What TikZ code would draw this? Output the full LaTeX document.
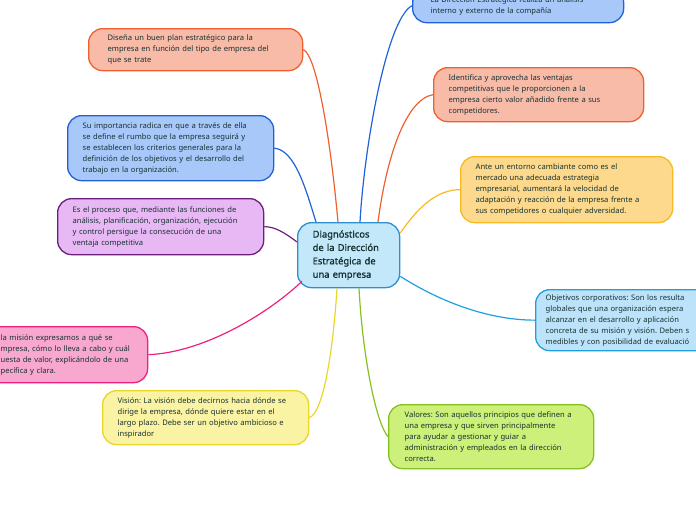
\documentclass[tikz,border=0pt]{standalone}
\usepackage{fontspec}
\setmainfont{Noto Sans}
\newfontfamily\hubfont[FakeBold=1.2]{Noto Sans}
\usetikzlibrary{calc}
\frenchspacing

\definecolor{txt}{HTML}{163030}
\definecolor{salmonF}{HTML}{F8BBA8}
\definecolor{salmonD}{HTML}{F0602E}
\definecolor{blueF}{HTML}{A8C8FA}
\definecolor{blueD}{HTML}{1F62D8}
\definecolor{purpF}{HTML}{E8B8F5}
\definecolor{purpD}{HTML}{6B1E7A}
\definecolor{amberF}{HTML}{FCD98C}
\definecolor{amberD}{HTML}{F8B922}
\definecolor{hubF}{HTML}{C2E8FA}
\definecolor{hubD}{HTML}{2E8FD0}
\definecolor{pinkF}{HTML}{F8A8CF}
\definecolor{pinkD}{HTML}{EE1F7D}
\definecolor{skyF}{HTML}{BDE3FA}
\definecolor{skyD}{HTML}{1E9FE0}
\definecolor{lemonF}{HTML}{FAF3A3}
\definecolor{lemonD}{HTML}{E8D62A}
\definecolor{limeF}{HTML}{CCF07A}
\definecolor{limeD}{HTML}{85C21F}

\begin{document}
\begin{tikzpicture}[x=1pt,y=-1pt,
  card/.style={draw, line width=1.3pt, rounded corners=14pt, anchor=north west,
    align=left, inner xsep=15pt, inner ysep=0pt, text=txt,
    font=\fontsize{7.6}{11}\selectfont},
  hub/.style={card, font=\hubfont\fontsize{9.4}{13.4}\selectfont},
  link/.style={line width=1.2pt}]
  \useasboundingbox (0,0) rectangle (696,520);
  \clip (0,0) rectangle (696,520);

  % central topic
  \node[hub, fill=hubF, draw=hubD, text width=72pt, minimum height=65pt] (hub) at (297,222)
    {Diagnósticos\\de la Dirección\\Estratégica de\\una empresa};

  % left column
  \node[card, fill=salmonF, draw=salmonD, inner xsep=19pt, text width=176pt, minimum height=42pt] (plan) at (88,28)
    {Diseña un buen plan estratégico para la\\empresa en función del tipo de empresa del\\que se trate};
  \node[card, fill=blueF, draw=blueD, text width=176pt, minimum height=65pt] (rumbo) at (67,115)
    {Su importancia radica en que a través de ella\\se define el rumbo que la empresa seguirá y\\se establecen los criterios generales para la\\definición de los objetivos y el desarrollo del\\trabajo en la organización.};
  \node[card, fill=purpF, draw=purpD, text width=176pt, minimum height=56pt] (proceso) at (57,198)
    {Es el proceso que, mediante las funciones de\\análisis, planificación, organización, ejecución\\y control persigue la consecución de una\\ventaja competitiva};
  \node[card, fill=pinkF, draw=pinkD, text width=132pt, minimum height=56pt] (mision) at (-15,326)
    {la misión expresamos a qué se\\mpresa, cómo lo lleva a cabo y cuál\\uesta de valor, explicándolo de una\\pecífica y clara.};
  \node[card, fill=lemonF, draw=lemonD, text width=176pt, minimum height=54pt] (vision) at (102,390)
    {Visión: La visión debe decirnos hacia dónde se\\dirige la empresa, dónde quiere estar en el\\largo plazo. Debe ser un objetivo ambicioso e\\inspirador};

  % right column
  \node[card, fill=blueF, draw=blueD, inner xsep=18pt, text width=175pt, minimum height=34pt] (analisis) at (412,-12)
    {La Dirección Estratégica realiza un análisis\\interno y externo de la compañía};
  \node[card, fill=salmonF, draw=salmonD, text width=180pt, minimum height=54pt] (ventajas) at (433,67)
    {Identifica y aprovecha las ventajas\\competitivas que le proporcionen a la\\empresa cierto valor añadido frente a sus\\competidores.};
  \node[card, fill=amberF, draw=amberD, text width=182pt, minimum height=66pt] (entorno) at (460,156)
    {Ante un entorno cambiante como es el\\mercado una adecuada estrategia\\empresarial, aumentará la velocidad de\\adaptación y reacción de la empresa frente a\\sus competidores o cualquier adversidad.};
  \node[card, fill=skyF, draw=skyD, inner xsep=10pt, text width=170pt, minimum height=61pt] (objetivos) at (535,289)
    {Objetivos corporativos: Son los resulta\\globales que una organización espera\\alcanzar en el desarrollo y aplicación\\concreta de su misión y visión. Deben s\\medibles y con posibilidad de evaluació};
  \node[card, fill=limeF, draw=limeD, inner xsep=16pt, text width=173pt, minimum height=64pt] (valores) at (388,404)
    {Valores: Son aquellos principios que definen a\\una empresa y que sirven principalmente\\para ayudar a gestionar y guiar a\\administración y empleados en la dirección\\correcta.};

  % branches
  \draw[link, salmonD] ($(hub.north west)+(41,0)$) .. controls +(-8,-87) and +(13,5) .. (plan.east);
  \draw[link, blueD] ($(hub.north west)+(63,0)$) .. controls +(4,-72) and +(-26,14) .. (analisis.west);
  \draw[link, blueD] ($(hub.north west)+(19,0)$) .. controls +(-10,-32) and +(21,2) .. (rumbo.east);
  \draw[link, salmonD] ($(hub.north west)+(81,0)$) .. controls +(8,-62) and +(-28,5) .. (ventajas.west);
  \draw[link, purpD] ($(hub.north west)+(0,20)$) .. controls +(-12,-9) and +(11,0) .. (proceso.east);
  \draw[link, amberD] ($(hub.north east)+(0,11)$) .. controls +(16,-23) and +(-25,0) .. (entorno.west);
  \draw[link, pinkD] ($(hub.south west)+(5,-7)$) .. controls +(-37,35) and +(53,-2) .. (mision.east);
  \draw[link, skyD] ($(hub.south east)+(0,-12)$) .. controls +(31,20) and +(-53,0) .. (objetivos.west);
  \draw[link, lemonD] ($(hub.south west)+(40,0)$) .. controls +(-4,63) and +(14,-5) .. (vision.east);
  \draw[link, limeD] ($(hub.south west)+(62,0)$) .. controls +(4,73) and +(-11,-12) .. (valores.west);
\end{tikzpicture}
\end{document}
